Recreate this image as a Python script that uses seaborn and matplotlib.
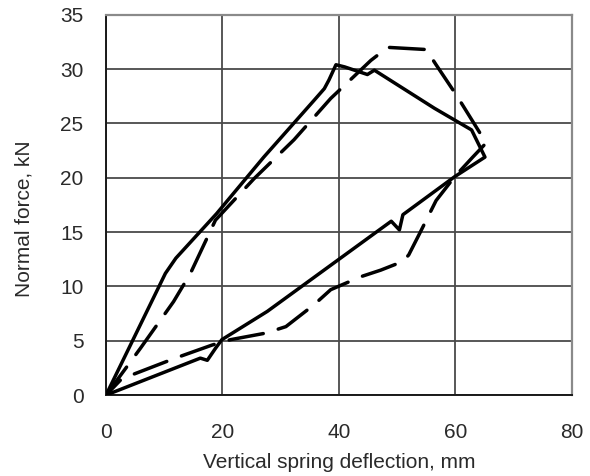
import matplotlib
matplotlib.use("Agg")
import matplotlib.pyplot as plt
import seaborn as sns

# solid curve (loading up, unloading back)
solid_x = [0, 10.2, 12.0, 19.0, 27.1, 35.7, 37.5, 38.3, 39.5, 41.0, 44.9, 46.1,
           56.4, 62.8, 65.1, 59.9, 51.0, 50.4, 49.0, 27.7, 19.9, 18.8, 17.4, 16.2, 0]
solid_y = [0, 11.2, 12.6, 16.7, 21.9, 27.1, 28.2, 29.0, 30.4, 30.2, 29.5, 29.9,
           26.4, 24.4, 21.9, 20.1, 16.6, 15.2, 16.0, 7.7, 5.1, 4.3, 3.2, 3.4, 0]

# dashed curve
dash_x = [0, 5.9, 11.6, 14.5, 18.8, 25.4, 32.3, 38.6, 45.5, 48.4, 55.0, 56.7,
          60.2, 65.3, 63.0, 59.9, 56.7, 53.9, 52.0, 51.0, 47.2, 43.8, 38.6, 35.7,
          30.9, 27.4, 21.4, 18.2, 11.9, 2.7, 0]
dash_y = [0, 4.3, 8.6, 11.2, 16.1, 19.9, 23.5, 27.3, 30.8, 32.0, 31.8, 30.4,
          27.6, 23.2, 21.9, 20.1, 17.9, 14.9, 12.9, 12.3, 11.5, 10.9, 9.7, 8.3,
          6.3, 5.7, 5.1, 4.6, 3.4, 1.5, 0]

x_ticks = [0, 20, 40, 60, 80]
y_ticks = [0, 5, 10, 15, 20, 25, 30, 35]

sns.set_style("white")
plt.rcParams['font.family'] = ['Liberation Sans', 'DejaVu Sans']

fig = plt.figure(figsize=(5.9, 4.76), dpi=100)
ax = fig.add_axes([0.1797, 0.170, 0.969 - 0.1797, 0.969 - 0.170])

sns.lineplot(x=solid_x, y=solid_y, sort=False, estimator=None, ax=ax,
             color="black", lw=2.5, solid_joinstyle="round", zorder=3)
sns.lineplot(x=dash_x, y=dash_y, sort=False, estimator=None, ax=ax,
             color="black", lw=2.5, dashes=False, zorder=3)
ax.lines[-1].set_linestyle((0, (10, 4.5)))
ax.lines[-1].set_dash_capstyle("round")

ax.set_xlim(0, 80)
ax.set_ylim(0, 35)
ax.set_xticks(x_ticks)
ax.set_yticks(y_ticks)
ax.grid(True, color="#4a4a4a", lw=1.3, zorder=0)
ax.set_axisbelow(True)

for side in ["top", "right"]:
    ax.spines[side].set_color("#8a8a8a")
    ax.spines[side].set_linewidth(1.6)
for side in ["left", "bottom"]:
    ax.spines[side].set_color("#1a1a1a")
    ax.spines[side].set_linewidth(1.4)

ax.tick_params(axis="both", direction="inout", length=8.5, width=1.1,
               color="#333333", labelsize=15, labelcolor="#2a2a2a")
ax.tick_params(axis="x", pad=16)
ax.tick_params(axis="y", pad=12)

ax.set_xlabel("Vertical spring deflection, mm", fontsize=15, color="#2a2a2a", labelpad=8)
ax.set_ylabel("Normal force, kN", fontsize=15, color="#2a2a2a", labelpad=19)
ax.yaxis.label.set_y(0.465)

fig.savefig("out.png", dpi=100)
